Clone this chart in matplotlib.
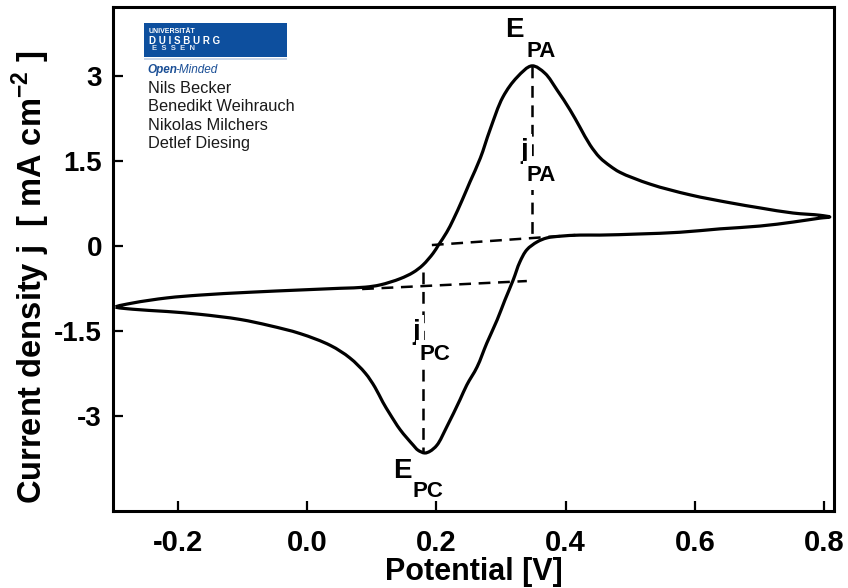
import matplotlib
matplotlib.use("Agg")
import numpy as np
import matplotlib.pyplot as plt
from matplotlib.patches import Rectangle, PathPatch
from matplotlib.path import Path

plt.rcParams['font.family'] = ['Liberation Sans', 'DejaVu Sans']
plt.rcParams['lines.scale_dashes'] = False

# ---- data ----
E_up = [-0.296, -0.270, -0.217, -0.166, -0.089, -0.011, 0.051, 0.090, 0.113, 0.144,
        0.164, 0.179, 0.195, 0.203, 0.216, 0.226, 0.240, 0.252, 0.268, 0.283,
        0.303, 0.325, 0.348, 0.368, 0.387, 0.407, 0.422, 0.438, 0.453, 0.469,
        0.484, 0.531, 0.593, 0.655, 0.701, 0.752, 0.794, 0.809]
j_up = [-1.08, -1.01, -0.92, -0.87, -0.82, -0.78, -0.75, -0.73, -0.69, -0.58,
        -0.47, -0.34, -0.13, 0.01, 0.24, 0.46, 0.81, 1.13, 1.55, 2.05,
        2.63, 2.98, 3.18, 3.05, 2.75, 2.40, 2.10, 1.78, 1.56, 1.41,
        1.30, 1.09, 0.90, 0.76, 0.67, 0.58, 0.54, 0.51]

E_dn = [0.809, 0.794, 0.752, 0.701, 0.639, 0.577, 0.515, 0.453, 0.422, 0.391,
        0.371, 0.356, 0.340, 0.329, 0.319, 0.306, 0.294, 0.278, 0.263, 0.247,
        0.2365, 0.216, 0.201, 0.190, 0.182, 0.1715, 0.164, 0.144, 0.128, 0.117,
        0.105, 0.090, 0.066, 0.036, -0.011, -0.058, -0.104, -0.166, -0.217,
        -0.270, -0.296]
j_dn = [0.51, 0.49, 0.42, 0.35, 0.30, 0.24, 0.21, 0.19, 0.19, 0.17,
        0.14, 0.07, -0.07, -0.29, -0.60, -0.96, -1.31, -1.72, -2.14, -2.46,
        -2.72, -3.20, -3.52, -3.63, -3.66, -3.61, -3.52, -3.25, -2.97, -2.76,
        -2.50, -2.25, -1.98, -1.76, -1.55, -1.41, -1.30, -1.21, -1.16,
        -1.12, -1.08]

# peak potentials / currents and baselines
E_PA, j_PA_peak = 0.348, 3.18
E_PC, j_PC_peak = 0.180, -3.64
base_A_E = [0.193, 0.415]
base_A_j = [0.014, 0.191]
base_C_E = [0.085, 0.340]
base_C_j = [-0.763, -0.622]
vert_A_j = [j_PA_peak, 0.14]
vert_C_j = [-0.46, j_PC_peak]

x_ticks = [-0.2, 0.0, 0.2, 0.4, 0.6, 0.8]
x_ticklabels = ['-0.2', '0.0', '0.2', '0.4', '0.6', '0.8']
y_ticks = [-3, -1.5, 0, 1.5, 3]
y_ticklabels = ['-3', '-1.5', '0', '1.5', '3']
names = ['Nils Becker', 'Benedikt Weihrauch', 'Nikolas Milchers', 'Detlef Diesing']

W, H = 848, 588
fig = plt.figure(figsize=(W / 100, H / 100), dpi=100)
ax = fig.add_axes([113 / W, 1 - 511 / H, (834 - 113) / W, (511 - 7) / H])
ax.set_xlim(-0.3006, 0.8155)
ax.set_ylim(-4.685, 4.22)


def smooth_closed_path(xs, ys, alpha=0.5):
    """Centripetal Catmull-Rom through the data points, as cubic Bezier path."""
    pts = ax.transData.transform(np.column_stack([xs, ys]))
    n = len(pts)
    verts = [pts[0]]
    codes = [Path.MOVETO]
    for i in range(n):
        p0, p1, p2, p3 = pts[(i - 1) % n], pts[i], pts[(i + 1) % n], pts[(i + 2) % n]
        d1 = max(np.linalg.norm(p1 - p0) ** alpha, 1e-6)
        d2 = max(np.linalg.norm(p2 - p1) ** alpha, 1e-6)
        d3 = max(np.linalg.norm(p3 - p2) ** alpha, 1e-6)
        b1 = (d1 ** 2 * p2 - d2 ** 2 * p0 + (2 * d1 ** 2 + 3 * d1 * d2 + d2 ** 2) * p1) / (3 * d1 * (d1 + d2))
        b2 = (d3 ** 2 * p1 - d2 ** 2 * p3 + (2 * d3 ** 2 + 3 * d3 * d2 + d2 ** 2) * p2) / (3 * d3 * (d3 + d2))
        verts += [b1, b2, p2]
        codes += [Path.CURVE4] * 3
    verts = ax.transData.inverted().transform(np.array(verts))
    return Path(verts, codes)


loop_E = E_up + E_dn[1:-1]
loop_j = j_up + j_dn[1:-1]
ax.add_patch(PathPatch(smooth_closed_path(loop_E, loop_j), facecolor='none',
                       edgecolor='black', lw=2.3, joinstyle='round'))

dash = dict(color='black', lw=1.8, dashes=(8.5, 5.5))
ax.plot(base_A_E, base_A_j, **dash)
ax.plot(base_C_E, base_C_j, **dash)
ax.plot([E_PA, E_PA], vert_A_j, **dash)
ax.plot([E_PC, E_PC], vert_C_j, **dash)

ax.set_xticks(x_ticks)
ax.set_xticklabels(x_ticklabels, fontsize=21, fontweight='bold')
ax.set_yticks(y_ticks)
ax.set_yticklabels(y_ticklabels, fontsize=20, fontweight='bold')
ax.tick_params(axis='both', direction='in', length=7, width=1.6)
ax.tick_params(axis='x', pad=13)
ax.tick_params(axis='y', pad=8)
for s in ax.spines.values():
    s.set_linewidth(2.2)


def px2d(px, py):
    return ((px - 307.2) / 646.0, (245.8 - py) / 56.6)


def label(main, sub, pm, ps, bg=False):
    kw = dict(fontweight='bold', color='black', va='baseline', ha='left', zorder=5)
    t1 = ax.text(*px2d(*pm), main, fontsize=20, **kw)
    t2 = ax.text(*px2d(*ps), sub, fontsize=16, **kw)
    if bg:
        for t in (t1, t2):
            t.set_bbox(dict(facecolor='white', edgecolor='none', pad=3))


label('E', 'PA', (505, 37), (527, 57))
label('j', 'PA', (520, 158), (527, 181), bg=True)
label('j', 'PC', (412, 339), (420, 360), bg=True)
label('E', 'PC', (393, 478), (413, 497))

fig.text(473.5 / W, 1 - 580 / H, 'Potential [V]', fontsize=22, fontweight='bold',
         ha='center', va='baseline')
fig.text(31 / W, 1 - 277 / H, r'Current density j  [ mA cm$^{\mathregular{-2}}$ ]',
         fontsize=23.5, fontweight='bold', rotation=90, ha='center', va='center')

# logo block
fig.patches.append(Rectangle((144 / W, 1 - 57 / H), 143 / W, 34 / H,
                             transform=fig.transFigure, facecolor='#0d4f9e',
                             edgecolor='none'))
fig.patches.append(Rectangle((144 / W, 1 - 59.5 / H), 143 / W, 1.5 / H,
                             transform=fig.transFigure, facecolor='#c9d6e8',
                             edgecolor='none'))
fig.text(149 / W, 1 - 33 / H, 'UNIVERSITÄT', fontsize=5, fontweight='bold',
         color='white', va='baseline')
fig.text(149 / W, 1 - 44 / H, 'D U I S B U R G', fontsize=7, fontweight='bold',
         color='white', va='baseline')
fig.text(152 / W, 1 - 50 / H, 'E  S  S  E  N', fontsize=5.5, fontweight='bold',
         color='#dde6f2', va='baseline')
fig.text(147 / W, 1 - 73 / H, 'Open', fontsize=8.5, fontweight='bold',
         fontstyle='italic', color='#1b4f96', va='baseline')
fig.text(175 / W, 1 - 73 / H, '-Minded', fontsize=8.5, fontstyle='italic',
         color='#1b4f96', va='baseline')
for i, n in enumerate(names):
    fig.text(148 / W, 1 - (93 + 18.3 * i) / H, n, fontsize=11.8, color='#1a1a1a',
             va='baseline')

fig.savefig('out.png', dpi=100)
